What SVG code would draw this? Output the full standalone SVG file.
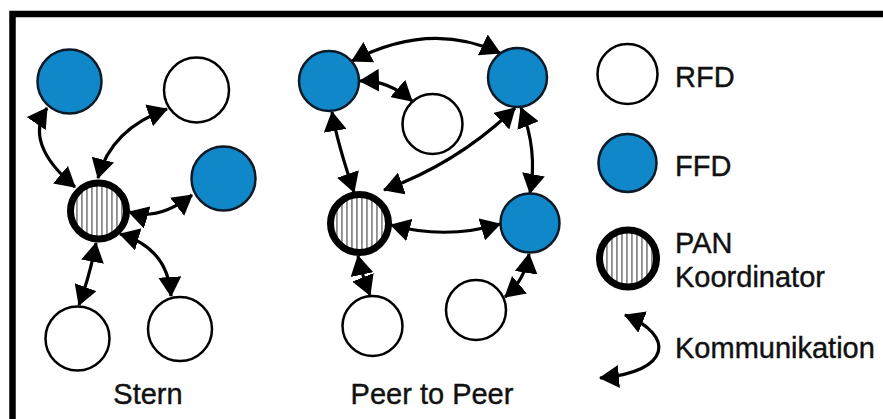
<svg xmlns="http://www.w3.org/2000/svg" width="883" height="419" viewBox="0 0 883 419">
  <defs>
    <pattern id="stripes" patternUnits="userSpaceOnUse" width="5" height="10">
      <rect width="5" height="10" fill="#ffffff"/>
      <rect x="1" width="1.8" height="10" fill="#8c8c8c"/>
    </pattern>
    <marker id="head" viewBox="0 0 20 23" refX="19" refY="11.5" markerWidth="20" markerHeight="23" markerUnits="userSpaceOnUse" orient="auto-start-reverse">
      <path d="M0,0 L20,11.5 L0,23 z" fill="#000"/>
    </marker>
  </defs>
  <style>
    .rfd { fill: #ffffff; stroke: #000; stroke-width: 2.5; }
    .ffd { fill: #0f87c9; stroke: #0b1a26; stroke-width: 2.5; }
    .pan { fill: url(#stripes); stroke: #000; stroke-width: 7; }
    .link { fill: none; stroke: #000; stroke-width: 3.2; marker-start: url(#head); marker-end: url(#head); }
    .lbl { font-family: "Liberation Sans", Arial, sans-serif; font-size: 29px; fill: #111; stroke: #111; stroke-width: 0.4; }
  </style>

  <rect width="883" height="419" fill="#ffffff"/>
  <!-- frame: top and left edges -->
  <path d="M12.5,419 V14 H883" fill="none" stroke="#000" stroke-width="6.5"/>

  <g id="connectors">
    <!-- Stern -->
    <path class="link" d="M47,108 Q23,143 75,187"/>
    <path class="link" d="M167,109 Q111,129 98,178"/>
    <path class="link" d="M129,212 Q159,221 192,195"/>
    <path class="link" d="M96,243 Q90,275 79,305"/>
    <path class="link" d="M120,234 Q168,248 171,296"/>
    <!-- Peer to Peer -->
    <path class="link" d="M352,61 Q430,20 500,53"/>
    <path class="link" d="M360,81 Q388,80 412,101"/>
    <path class="link" d="M332,112 Q337,142 354,192"/>
    <path class="link" d="M515,108 Q458,163 384,190"/>
    <path class="link" d="M521,108 Q538,150 530,193"/>
    <path class="link" d="M391,225 Q446,240 500,224"/>
    <path class="link" d="M358,256 Q362,275 370,295"/>
    <path class="link" d="M529,254 Q525,280 505,297"/>
    <!-- legend -->
    <path class="link" d="M625,315 C675,335 672,372 600,378"/>
  </g>

  <!-- Stern -->
  <g id="stern-ffd-1"><circle class="ffd" cx="69.5" cy="81.5" r="32"/></g>
  <g id="stern-rfd-1"><circle class="rfd" cx="196.5" cy="90" r="32.5"/></g>
  <g id="stern-ffd-2"><circle class="ffd" cx="223.5" cy="178.5" r="32"/></g>
  <g id="stern-pan"><circle class="pan" cx="98.5" cy="211" r="28"/></g>
  <g id="stern-rfd-2"><circle class="rfd" cx="77.5" cy="338.5" r="32"/></g>
  <g id="stern-rfd-3"><circle class="rfd" cx="180" cy="329" r="32"/></g>
  <g id="stern-label"><text class="lbl" x="148" y="404" text-anchor="middle">Stern</text></g>

  <!-- Peer to Peer -->
  <g id="p2p-ffd-1"><circle class="ffd" cx="329" cy="81" r="30"/></g>
  <g id="p2p-ffd-2"><circle class="ffd" cx="517.5" cy="77.5" r="29.5"/></g>
  <g id="p2p-rfd-1"><circle class="rfd" cx="432.5" cy="124" r="30"/></g>
  <g id="p2p-pan"><circle class="pan" cx="359.5" cy="223.5" r="29"/></g>
  <g id="p2p-ffd-3"><circle class="ffd" cx="530" cy="223" r="29.5"/></g>
  <g id="p2p-rfd-2"><circle class="rfd" cx="372.5" cy="326" r="30"/></g>
  <g id="p2p-rfd-3"><circle class="rfd" cx="476" cy="310" r="30"/></g>
  <g id="p2p-label"><text class="lbl" x="432" y="404" text-anchor="middle">Peer to Peer</text></g>

  <!-- legend -->
  <g id="legend-rfd">
    <circle class="rfd" cx="627.5" cy="74" r="30"/>
    <text class="lbl" x="675" y="87">RFD</text>
  </g>
  <g id="legend-ffd">
    <circle class="ffd" cx="627.5" cy="163" r="29"/>
    <text class="lbl" x="675" y="176">FFD</text>
  </g>
  <g id="legend-pan">
    <circle class="pan" cx="628" cy="258.5" r="28.5"/>
    <text class="lbl" x="675" y="253">PAN</text>
    <text class="lbl" x="675" y="287">Koordinator</text>
  </g>
  <g id="legend-link">
    <text class="lbl" x="675" y="358">Kommunikation</text>
  </g>
</svg>
